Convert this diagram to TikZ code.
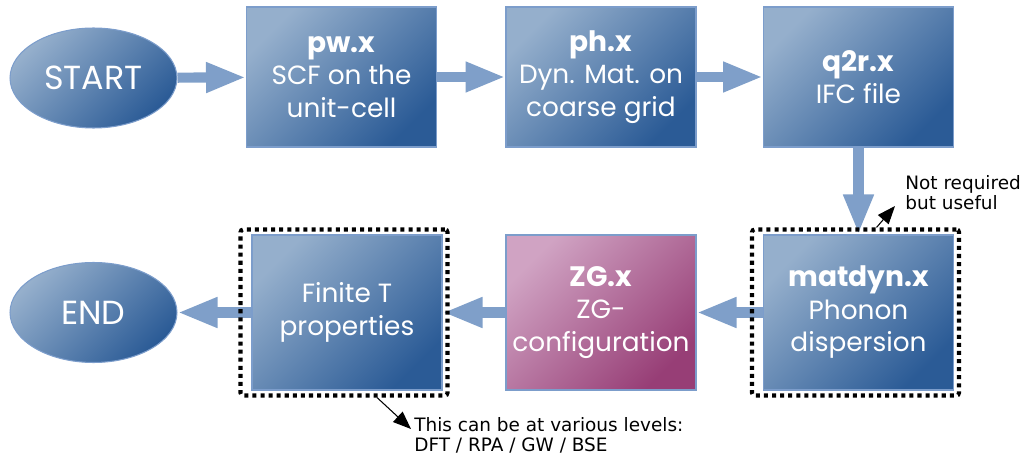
\documentclass[tikz,border=0pt]{standalone}
\usepackage{fontspec}
\setmainfont{DejaVu Sans}
\newfontfamily\boxfont{Poppins}
\usetikzlibrary{arrows.meta,positioning,shapes.geometric,fit}
\definecolor{boxlight}{HTML}{95AFCC}
\definecolor{boxdark}{HTML}{2B5B96}
\definecolor{boxline}{HTML}{7C9DCB}
\definecolor{zglight}{HTML}{D0A3C3}
\definecolor{zgdark}{HTML}{973E76}
\definecolor{flowc}{HTML}{7F9FC9}
\newcommand{\prog}[1]{{\fontsize{16}{19}\selectfont\bfseries #1}}
\tikzset{prog/.style={rectangle,draw=boxline,line width=.6pt,minimum width=3.8cm,
    minimum height=2.8cm,inner sep=0pt,align=center,text=white,
    font=\boxfont\fontsize{15}{18.5}\selectfont,
    top color=boxlight,bottom color=boxdark,shading angle=45},
  tall/.style={prog,minimum height=3.1cm},
  zgbox/.style={tall,top color=zglight,bottom color=zgdark,shading angle=45},
  terminal/.style={prog,ellipse,minimum width=3.34cm,minimum height=2cm,
    font=\boxfont\fontsize{19}{22}\selectfont},
  flow/.style={draw=flowc,line width=5.8pt,-{Triangle[length=8mm,width=5.6mm]}},
  dotframe/.style={draw=black,line width=2.3pt,dash pattern=on 2.3pt off 2.3pt,
    rounded corners=1.5pt,inner xsep=.16cm,inner ysep=.1cm,xshift=-.06cm},
  note/.style={font=\fontsize{10.5}{11.6}\selectfont,align=left,inner sep=0pt},
  notearrow/.style={draw=black,line width=.6pt,-{Triangle[length=3.6mm,width=2.8mm]}}}
\begin{document}
\begin{tikzpicture}[x=.02cm,y=-.02cm]
\useasboundingbox (0,0) rectangle (1025,456);
% top row
\node[terminal] (start) at (93.5,78) {START};
\node[prog] (pw) at (341.5,77) {\prog{pw.x}\\SCF on the\\unit-cell};
\node[prog] (ph) at (601,77) {\prog{ph.x}\\Dyn. Mat. on\\coarse grid};
\node[prog] (q2r) at (858.5,77) {\prog{q2r.x}\\IFC file};
% bottom row
\node[tall] (matdyn) at (858.5,312.5) {\prog{matdyn.x}\\Phonon\\dispersion};
\node[zgbox] (zg) at (601,312.5) {\prog{ZG.x}\\ZG-\\configuration};
\node[tall] (finite) at (347,312.5) {Finite T\\properties};
\node[terminal] (end) at (93.5,312.5) {END};
\draw[flow] (start) -- (pw);
\draw[flow] (pw) -- (ph);
\draw[flow] (ph) -- (q2r);
\draw[flow] (q2r) -- (matdyn);
\draw[flow] (matdyn) -- (zg);
\draw[flow] (zg) -- (finite);
\draw[flow] (finite) -- (end);
% optional steps
\node[dotframe,fit=(matdyn)] (mframe) {};
\node[dotframe,fit=(finite)] (fframe) {};
\node[note,anchor=north west] (useful) at (905,175) {Not required\\but useful};
\coordinate (ua) at (895,206);
\draw[notearrow] ([xshift=.42cm]mframe.north) -- (ua);
\node[note,anchor=north west] (levels) at (414,417) {This can be at various levels:\\DFT / RPA / GW / BSE};
\coordinate (la) at (411,429);
\draw[notearrow] ([xshift=.66cm]fframe.south) -- (la);
\end{tikzpicture}
\end{document}
